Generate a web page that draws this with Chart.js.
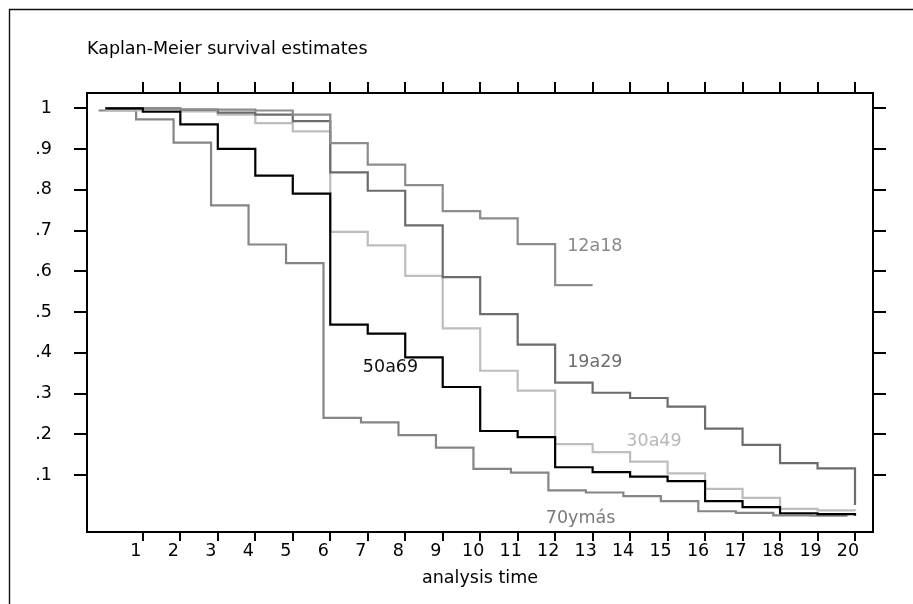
<!DOCTYPE html>
<html>
<head>
<meta charset="utf-8">
<script src="https://cdn.jsdelivr.net/npm/chart.js@4/dist/chart.umd.min.js"></script>
<style>
html,body{margin:0;padding:0;background:#fff;}
#wrap{width:913px;height:604px;position:relative;}
</style>
</head>
<body>
<div id="wrap"><canvas id="c" width="913" height="604"></canvas></div>
<script>
// ---- data ----
const xTickValues = [1,2,3,4,5,6,7,8,9,10,11,12,13,14,15,16,17,18,19,20];
const yTickValues = [0.1,0.2,0.3,0.4,0.5,0.6,0.7,0.8,0.9,1];
const yTickLabels = ['.1','.2','.3','.4','.5','.6','.7','.8','.9','1'];

const times = [0,1,2,3,4,5,6,7,8,9,10,11,12,13,14,15,16,17,18,19,20];
const times70 = [-0.18,0.82,1.82,2.82,3.82,4.82,5.82,6.82,7.82,8.82,9.82,10.82,11.82,12.82,13.82,14.82,15.82,16.82,17.82,18.82,19.8];

const surv12a18 = [1.000,1.000,0.997,0.997,0.995,0.985,0.915,0.862,0.812,0.748,0.730,0.667,0.566,0.566];
const surv19a29 = [1.000,1.000,0.997,0.990,0.985,0.969,0.843,0.798,0.713,0.586,0.495,0.420,0.327,0.302,0.289,0.268,0.214,0.174,0.129,0.116,0.026];
const surv30a49 = [0.995,0.995,0.993,0.985,0.964,0.944,0.697,0.664,0.589,0.460,0.356,0.307,0.176,0.156,0.133,0.104,0.066,0.044,0.017,0.013,0.012];
const surv50a69 = [1.000,0.992,0.961,0.901,0.835,0.791,0.469,0.447,0.389,0.316,0.208,0.193,0.119,0.107,0.096,0.085,0.036,0.021,0.006,0.004,0.000];
const surv70ymas = [0.995,0.973,0.916,0.762,0.666,0.620,0.240,0.229,0.198,0.167,0.115,0.106,0.062,0.057,0.048,0.036,0.011,0.007,0.001,0.000,0.000];

const seriesNames = ['12a18','19a29','30a49','50a69','70ymás'];
const seriesColors = ['#8c8c8c','#6c6c6c','#bdbdbd','#000000','#858585'];
const labelColors = ['#8a8a8a','#6e6e6e','#b8b8b8','#111111','#7a7a7a'];
// label anchor points in data units (time, survival)
const labelTimes = [12.32,12.32,13.90,6.87,11.75];
const labelSurv = [0.649,0.366,0.170,0.354,-0.017];

const titleText = 'Kaplan-Meier survival estimates';
const xTitleText = 'analysis time';

// ---- build ----
function pts(ts, vs){ return vs.map((v,i)=>({x:ts[i], y:v})); }
const seriesData = [
  pts(times, surv12a18),
  pts(times, surv19a29),
  pts(times, surv30a49),
  pts(times, surv50a69),
  pts(times70, surv70ymas)
];

const FONT = 'DejaVu Sans';
const FS = 17.5;

const datasets = seriesData.map((d,i)=>({
  label: seriesNames[i],
  data: d,
  borderColor: seriesColors[i],
  backgroundColor: seriesColors[i],
  borderWidth: 2.2,
  pointRadius: 0,
  stepped: true,
  fill: false,
  order: i === 3 ? 0 : 1
}));

const framePlugin = {
  id: 'frame',
  beforeDraw(chart){
    const ctx = chart.ctx;
    ctx.save();
    ctx.strokeStyle = '#111';
    ctx.lineWidth = 1.4;
    ctx.beginPath();
    ctx.moveTo(9.5, 604);
    ctx.lineTo(9.5, 9.5);
    ctx.lineTo(913, 9.5);
    ctx.stroke();
    ctx.restore();
  }
};

const labelPlugin = {
  id: 'seriesLabels',
  afterDatasetsDraw(chart){
    const ctx = chart.ctx;
    const xs = chart.scales.x, ys = chart.scales.y;
    ctx.save();
    ctx.font = FS + 'px "' + FONT + '"';
    ctx.textAlign = 'left';
    ctx.textBaseline = 'alphabetic';
    seriesNames.forEach((n,i)=>{
      ctx.fillStyle = labelColors[i];
      ctx.fillText(n, xs.getPixelForValue(labelTimes[i]), ys.getPixelForValue(labelSurv[i]));
    });
    ctx.restore();
  }
};

const axisGrid = (len) => ({
  display: true,
  drawOnChartArea: false,
  drawTicks: true,
  tickLength: len,
  tickWidth: 2,
  tickColor: '#000',
  color: '#000',
  lineWidth: 2
});
const axisBorder = {display: true, color: '#000', width: 2};
const titleLH = FS * 1.2;

new Chart(document.getElementById('c'), {
  type: 'line',
  data: { datasets },
  plugins: [framePlugin, labelPlugin],
  options: {
    responsive: false,
    animation: false,
    events: [],
    layout: { padding: 0 },
    plugins: {
      legend: { display: false },
      tooltip: { enabled: false },
      title: {
        display: true,
        text: titleText,
        align: 'start',
        fullSize: false,
        color: '#000',
        font: { family: FONT, size: FS, weight: 'normal' },
        padding: { top: 38.5, bottom: 0 }
      }
    },
    scales: {
      x: {
        type: 'linear',
        position: 'bottom',
        min: -0.49,
        max: 20.48,
        afterBuildTicks: s => { s.ticks = xTickValues.map(v => ({value: v})); },
        afterFit: s => { s.height = 72; },
        grid: axisGrid(9),
        border: axisBorder,
        ticks: {
          color: '#000',
          font: { family: FONT, size: FS },
          padding: 0,
          labelOffset: -7,
          maxRotation: 0,
          autoSkip: false,
          callback: v => String(v)
        },
        title: {
          display: true,
          text: xTitleText,
          color: '#000',
          font: { family: FONT, size: FS },
          padding: { top: 0, bottom: 15.5 }
        }
      },
      x2: {
        type: 'linear',
        position: 'top',
        min: -0.49,
        max: 20.48,
        afterBuildTicks: s => { s.ticks = xTickValues.map(v => ({value: v})); },
        afterFit: s => { s.height = 93 - (titleLH + 38.5); },
        grid: axisGrid(11),
        border: axisBorder,
        ticks: { display: false }
      },
      y: {
        type: 'linear',
        position: 'left',
        min: -0.04,
        max: 1.038,
        afterBuildTicks: s => { s.ticks = yTickValues.map(v => ({value: v})); },
        afterFit: s => { s.width = 87; },
        grid: axisGrid(13),
        border: axisBorder,
        ticks: {
          color: '#000',
          font: { family: FONT, size: FS },
          padding: 22,
          autoSkip: false,
          callback: (v, i) => yTickLabels[i]
        }
      },
      y2: {
        type: 'linear',
        position: 'right',
        min: -0.04,
        max: 1.038,
        afterBuildTicks: s => { s.ticks = yTickValues.map(v => ({value: v})); },
        afterFit: s => { s.width = 40; },
        grid: axisGrid(13),
        border: axisBorder,
        ticks: { display: false }
      }
    }
  }
});
</script>
</body>
</html>
